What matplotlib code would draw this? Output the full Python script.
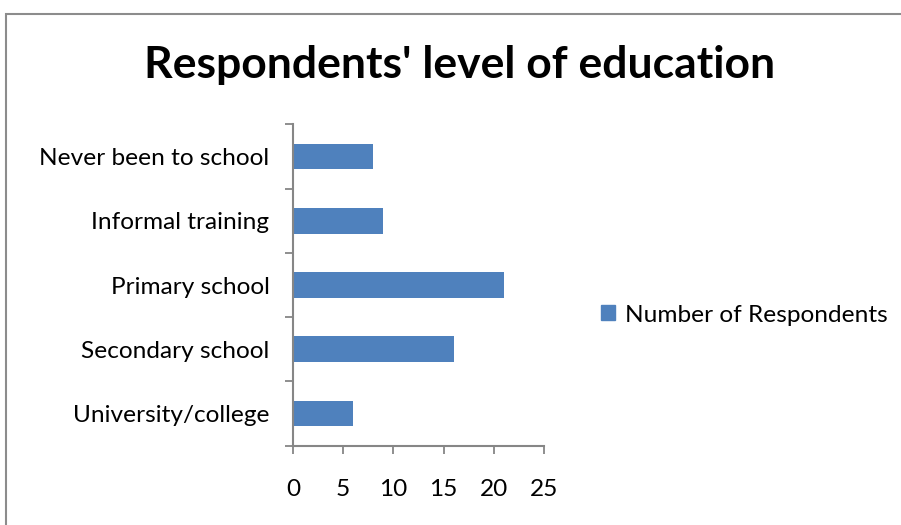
import matplotlib
matplotlib.use("Agg")
import matplotlib.pyplot as plt
from matplotlib.patches import Rectangle

categories = ["Never been to school", "Informal training", "Primary school",
              "Secondary school", "University/college"]
respondents = [8, 9, 21, 16, 6]
x_ticks = [0, 5, 10, 15, 20, 25]
series_name = "Number of Respondents"
title = "Respondents' level of education"

BAR_COLOR = "#4F81BD"
AXIS_COLOR = "#868686"
FONT = "Lato"
LABEL_SIZE = 17.6

W, H = 901, 525
fig = plt.figure(figsize=(W / 100, H / 100), dpi=100)
fig.patch.set_facecolor("white")

# chart-area border (runs off the right and bottom edges)
fig.add_artist(Rectangle((5.5 / W, -0.1), 2.0, 1 - 13.5 / H + 0.1,
                         transform=fig.transFigure, fill=False,
                         edgecolor="#8C8C8C", linewidth=1.5))

ax = fig.add_axes([293 / W, 1 - 445.5 / H, (544 - 293) / W, (445.5 - 124.5) / H])
ypos = list(range(len(categories)))[::-1]
ax.barh(ypos, respondents, height=0.4, color=BAR_COLOR,
        label=series_name, zorder=2)
ax.set_ylim(-0.5, len(categories) - 0.5)
ax.set_xlim(x_ticks[0], x_ticks[-1])
ax.set_xticks(x_ticks)
ax.set_xticklabels([str(t) for t in x_ticks])
ax.set_yticks([p - 0.5 for p in range(len(categories) + 1)])
ax.set_yticklabels([])
ax.set_yticks(ypos, minor=True)
ax.set_yticklabels(categories, minor=True)

for s in ("top", "right"):
    ax.spines[s].set_visible(False)
for s in ("left", "bottom"):
    ax.spines[s].set_color(AXIS_COLOR)
    ax.spines[s].set_linewidth(1.5)

ax.tick_params(axis="x", which="major", direction="out", length=6,
               width=1.3, color=AXIS_COLOR, pad=18, labelsize=LABEL_SIZE)
ax.tick_params(axis="y", which="major", direction="out", length=6,
               width=1.3, color=AXIS_COLOR)
ax.tick_params(axis="y", which="minor", length=0, pad=17, labelsize=LABEL_SIZE)
for lab in ax.get_xticklabels() + ax.get_yticklabels(minor=True):
    lab.set_family(FONT)

fig.text(460 / W, 1 - 78 / H, title, ha="center", va="baseline",
         fontsize=32, fontweight="bold", family=FONT)

handles = [Rectangle((0, 0), 1, 1, color=BAR_COLOR)]
leg = fig.legend(handles, [series_name], loc="center left",
                 bbox_to_anchor=(579 / W, 1 - 315 / H), frameon=False,
                 prop={"family": FONT, "size": LABEL_SIZE},
                 handlelength=0.57, handleheight=0.57, handletextpad=0.4)

fig.savefig("out.png", dpi=100, facecolor="white")
